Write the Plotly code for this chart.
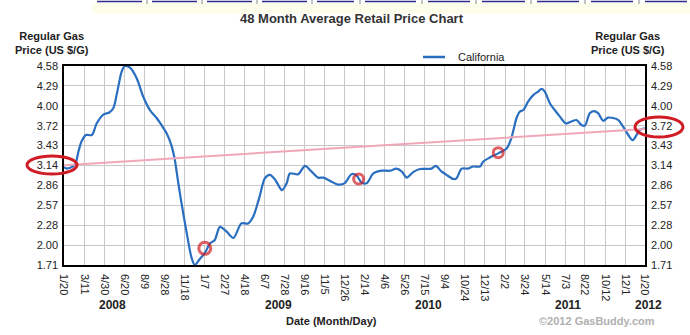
import plotly.graph_objects as go

# ---- data ----
dates = [
    "2008-01-20", "2008-01-27", "2008-02-16", "2008-02-25", "2008-03-04", "2008-03-15", "2008-03-30",
    "2008-04-11", "2008-04-28", "2008-05-13", "2008-05-23", "2008-06-02", "2008-06-13", "2008-06-21",
    "2008-07-04", "2008-07-21", "2008-08-06", "2008-08-23", "2008-09-09", "2008-09-21", "2008-10-04",
    "2008-10-16", "2008-10-24", "2008-11-02", "2008-11-10", "2008-11-23", "2008-12-06", "2008-12-14",
    "2008-12-27", "2009-01-08", "2009-01-21", "2009-02-02", "2009-02-15", "2009-03-04", "2009-03-21",
    "2009-04-10", "2009-04-27", "2009-05-10", "2009-05-22", "2009-05-27", "2009-06-08", "2009-06-21",
    "2009-07-04", "2009-07-21", "2009-08-02", "2009-08-10", "2009-08-31", "2009-09-17", "2009-10-03",
    "2009-10-20", "2009-11-02", "2009-11-23", "2009-12-09", "2009-12-26", "2010-01-12", "2010-01-25",
    "2010-02-06", "2010-02-19", "2010-03-08", "2010-03-29", "2010-04-19", "2010-05-05", "2010-05-18",
    "2010-05-31", "2010-06-16", "2010-07-03", "2010-07-20", "2010-08-01", "2010-08-12", "2010-08-26",
    "2010-09-08", "2010-09-25", "2010-10-03", "2010-10-16", "2010-11-01", "2010-11-14", "2010-12-01",
    "2010-12-09", "2010-12-26", "2011-01-16", "2011-02-06", "2011-02-18", "2011-03-03", "2011-03-11",
    "2011-03-20", "2011-04-01", "2011-04-14", "2011-04-26", "2011-05-05", "2011-05-13", "2011-05-26",
    "2011-06-07", "2011-06-20", "2011-07-05", "2011-07-19", "2011-08-01", "2011-08-13", "2011-08-22",
    "2011-09-03", "2011-09-13", "2011-09-24", "2011-10-07", "2011-10-19", "2011-11-01", "2011-11-14",
    "2011-11-26", "2011-12-09", "2011-12-20", "2011-12-30", "2012-01-07", "2012-01-20",
]
california = [
    3.12, 3.10, 3.15, 3.34, 3.49, 3.585, 3.585,
    3.75, 3.88, 3.91, 3.97, 4.21, 4.50, 4.58,
    4.555, 4.40, 4.14, 3.945, 3.83, 3.73, 3.61,
    3.44, 3.25, 2.91, 2.62, 2.19, 1.81, 1.71,
    1.80, 1.88, 2.02, 2.07, 2.26, 2.19, 2.10,
    2.31, 2.31, 2.41, 2.62, 2.72, 2.96, 3.01,
    2.94, 2.79, 2.89, 3.03, 3.02, 3.14, 3.06,
    2.97, 2.97, 2.91, 2.87, 2.89, 3.02, 3.00,
    2.90, 2.89, 3.03, 3.07, 3.07, 3.10, 3.06,
    2.97, 3.05, 3.095, 3.095, 3.10, 3.14, 3.06,
    3.01, 2.95, 2.96, 3.10, 3.10, 3.13, 3.13,
    3.20, 3.26, 3.32, 3.39, 3.54, 3.83, 3.92,
    3.945, 4.065, 4.16, 4.21, 4.25, 4.21, 4.04,
    3.945, 3.85, 3.75, 3.78, 3.80, 3.73, 3.72,
    3.90, 3.93, 3.90, 3.79, 3.835, 3.83, 3.80,
    3.705, 3.585, 3.51, 3.585, 3.66, 3.68,
]
trend_dates = ["2008-01-20", "2012-01-20"]
trend_values = [3.15, 3.67]
highlight_dates = ["2009-01-08", "2010-01-30", "2011-01-16"]
highlight_values = [1.95, 2.95, 3.33]

tick_dates = [
    "2008-01-20", "2008-03-11", "2008-04-30", "2008-06-20", "2008-08-09", "2008-09-28", "2008-11-18",
    "2009-01-07", "2009-02-27", "2009-04-18", "2009-06-07", "2009-07-28", "2009-09-16", "2009-11-05",
    "2009-12-26", "2010-02-14", "2010-04-06", "2010-05-26", "2010-07-15", "2010-09-04", "2010-10-24",
    "2010-12-13", "2011-02-02", "2011-03-24", "2011-05-14", "2011-07-03", "2011-08-22", "2011-10-12",
    "2011-12-01", "2012-01-20",
]
tick_labels = [
    "1/20", "3/11", "4/30", "6/20", "8/9", "9/28", "11/18", "1/7", "2/27", "4/18", "6/7", "7/28",
    "9/16", "11/5", "12/26", "2/14", "4/6", "5/26", "7/15", "9/4", "10/24", "12/13", "2/2", "3/24",
    "5/14", "7/3", "8/22", "10/12", "12/1", "1/20",
]
y_ticks = [1.71, 1.997, 2.284, 2.571, 2.858, 3.145, 3.432, 3.719, 4.006, 4.293, 4.58]
y_labels = ["1.71", "2.00", "2.28", "2.57", "2.86", "3.14", "3.43", "3.72", "4.00", "4.29", "4.58"]
years = ["2008", "2009", "2010", "2011", "2012"]

# ---- layout geometry helpers ----
L, R, T, B = 64, 645, 66, 265
W, H = 690, 335
def px(x):
    return (x - L) / (R - L)
def py(y):
    return (B - y) / (B - T)

FONT = "Arial, Liberation Sans, sans-serif"
BLUE = "#2a6ec0"
PINK = "#f0a8b8"
RED = "#d01c24"

fig = go.Figure()
fig.add_trace(go.Scatter(
    x=dates, y=california, mode="lines", name="California",
    line=dict(color=BLUE, width=2.2, shape="spline", smoothing=0.8),
))
fig.add_trace(go.Scatter(
    x=trend_dates, y=trend_values, mode="lines", showlegend=False,
    line=dict(color=PINK, width=2), yaxis="y2",
))
fig.add_trace(go.Scatter(
    x=highlight_dates, y=highlight_values, mode="markers", showlegend=False,
    marker=dict(symbol="circle-open", size=[12, 10, 10], color=RED, line=dict(width=3, color=RED)),
))

yax = dict(range=[1.71, 4.58], tickvals=y_ticks, ticktext=y_labels,
           showgrid=True, gridcolor="#c8c8c8", gridwidth=1, zeroline=False,
           showline=True, linecolor="#000", linewidth=1.5,
           ticks="outside", ticklen=2, tickcolor="rgba(0,0,0,0)",
           tickfont=dict(family=FONT, size=11, color="#222"))
fig.update_layout(
    width=W, height=H,
    margin=dict(l=L, r=W - R, t=T, b=H - B),
    paper_bgcolor="white", plot_bgcolor="white",
    showlegend=False,
    xaxis=dict(type="date", range=["2008-01-20", "2012-01-20"],
               tickvals=tick_dates, ticktext=tick_labels, tickangle=90,
               showgrid=True, gridcolor="#c8c8c8", gridwidth=1,
               showline=True, linecolor="#000", linewidth=1.5, mirror=True,
               ticks="outside", ticklen=5, tickcolor="rgba(0,0,0,0)",
               tickfont=dict(family=FONT, size=11, color="#222")),
    yaxis=dict(**yax, side="left"),
    yaxis2=dict(**yax, side="right", overlaying="y"),
)
fig.update_layout(yaxis2=dict(showgrid=False))

def label(text, x, y, size=11, color="#222", xanchor="center"):
    return dict(text=text, xref="paper", yref="paper", x=px(x), y=py(y), showarrow=False,
                xanchor=xanchor, yanchor="middle", align="center",
                font=dict(family=FONT, size=size, color=color))

ann = [
    label("<b>48 Month Average Retail Price Chart</b>", 352, 18, size=13, color="#333"),
    label("<b>Regular Gas<br>Price (US $/G)</b>", 52, 43),
    label("<b>Regular Gas<br>Price (US $/G)</b>", 628, 43),
    label("California", 456, 57, xanchor="left"),
    label("<b>Date (Month/Day)</b>", 331, 321),
    label("<b>©2012 GasBuddy.com</b>", 597, 321, color="#b0b0b0"),
]
for yr, xx in zip(years, [112, 278, 428, 568, 648]):
    ann.append(label("<b>%s</b>" % yr, xx, 305, size=12))
fig.update_layout(annotations=ann)

shapes = []
# faint yellow strip and navigation links at the top
shapes.append(dict(type="rect", xref="paper", yref="paper", x0=px(92), x1=px(690), y0=py(3), y1=py(14),
                   fillcolor="#fdfdec", line=dict(width=0), layer="below"))
for a, b in [(97, 142), (152, 197), (207, 252), (262, 307), (317, 354), (365, 416), (428, 470),
             (482, 525), (537, 579), (591, 633), (645, 687)]:
    shapes.append(dict(type="line", xref="paper", yref="paper", x0=px(a), x1=px(b), y0=py(1.5), y1=py(1.5),
                       line=dict(color="#2c2c8a", width=1.5)))
for s in [147, 202, 257, 312, 360, 422, 476, 531, 585, 639]:
    shapes.append(dict(type="line", xref="paper", yref="paper", x0=px(s), x1=px(s), y0=py(0), y1=py(4),
                       line=dict(color="#888", width=1)))
# legend sample line
shapes.append(dict(type="line", xref="paper", yref="paper", x0=px(423), x1=px(445), y0=py(57), y1=py(57),
                   line=dict(color=BLUE, width=2.5)))
# red highlight ellipses around axis labels
shapes.append(dict(type="circle", xref="paper", yref="paper", x0=px(27), x1=px(77), y0=py(174), y1=py(156),
                   line=dict(color=RED, width=3)))
shapes.append(dict(type="circle", xref="paper", yref="paper", x0=px(635), x1=px(683), y0=py(137), y1=py(117),
                   line=dict(color=RED, width=3)))
fig.update_layout(shapes=shapes)

fig.write_html("out.html")
